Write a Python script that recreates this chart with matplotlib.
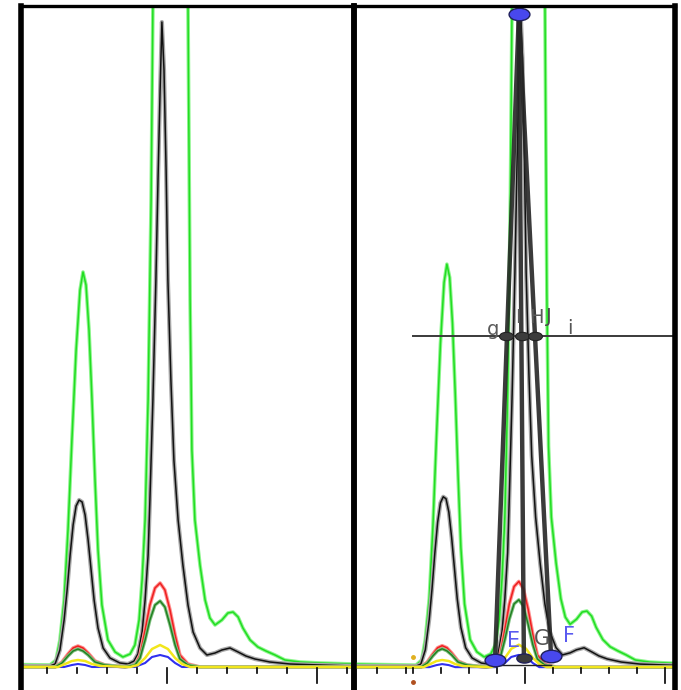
import matplotlib
matplotlib.use("Agg")
import matplotlib.pyplot as plt
import matplotlib.path as mpath
import numpy as np

# curves: x in tick units, y in signal height
black_x = [-6.2, -3.89, -3.72, -3.56, -3.42, -3.32, -3.22, -3.12, -3.02, -2.92, -2.82, -2.72,
           -2.62, -2.52, -2.42, -2.29, -2.12, -1.89, -1.56, -1.29, -1.09, -0.96, -0.82, -0.72,
           -0.62, -0.56, -0.46, -0.36, -0.29, -0.22, -0.16, -0.09, -0.02, 0.04, 0.14, 0.24,
           0.38, 0.54, 0.71, 0.88, 1.11, 1.34, 1.61, 1.84, 2.11, 2.38, 2.64, 2.94, 3.44, 4.11,
           5.11, 6.21]
black_y = [0.01, 0.01, 0.03, 0.17, 0.47, 0.77, 1.12, 1.42, 1.61, 1.67, 1.65, 1.52,
           1.27, 0.97, 0.67, 0.39, 0.19, 0.09, 0.04, 0.03, 0.06, 0.13, 0.35, 0.67,
           1.12, 1.67, 2.67, 3.87, 4.87, 5.77, 6.45, 5.97, 4.97, 3.87, 2.87, 2.07,
           1.47, 1.02, 0.62, 0.35, 0.19, 0.12, 0.14, 0.17, 0.19, 0.15, 0.11, 0.08, 0.05, 0.03,
           0.02, 0.01]

green_x = [-6.2, -3.89, -3.69, -3.56, -3.42, -3.29, -3.16, -3.02, -2.89, -2.79, -2.69, -2.59,
           -2.49, -2.39, -2.29, -2.16, -1.96, -1.72, -1.46, -1.22, -1.06, -0.92, -0.82, -0.72,
           -0.62, -0.52, -0.46, 0.11, 0.71, 0.78, 0.84, 0.94, 1.11, 1.28, 1.44, 1.61, 1.84,
           2.04, 2.21, 2.38, 2.54, 2.78, 3.04, 3.31, 3.61, 3.94, 4.44, 5.11, 6.21]
green_y = [0.03, 0.02, 0.07, 0.27, 0.67, 1.37, 2.27, 3.17, 3.77, 3.95, 3.82, 3.37,
           2.67, 1.87, 1.17, 0.62, 0.27, 0.15, 0.10, 0.13, 0.22, 0.47, 0.87, 1.47,
           2.67, 4.67, 6.61, 12.67, 6.61, 3.67, 2.17, 1.47, 1.02, 0.67, 0.49, 0.42, 0.47,
           0.54, 0.55, 0.50, 0.39, 0.27, 0.20, 0.16, 0.12, 0.07, 0.05, 0.04, 0.03]

red_x = [-6.2, -3.72, -3.49, -3.29, -3.12, -2.96, -2.79, -2.62, -2.39, -2.06, -1.39, -1.06,
         -0.89, -0.72, -0.56, -0.39, -0.22, -0.06, 0.11, 0.28, 0.44, 0.71, 1.11, 6.21]
red_y = [0, 0, 0.05, 0.13, 0.19, 0.21, 0.19, 0.14, 0.06, 0.02, 0, 0.02,
         0.12, 0.37, 0.62, 0.79, 0.84, 0.77, 0.57, 0.32, 0.12, 0.03, 0, 0]

dkgreen_x = red_x
dkgreen_y = [0, 0, 0.04, 0.11, 0.16, 0.18, 0.16, 0.12, 0.05, 0.02, 0, 0.02,
             0.09, 0.27, 0.47, 0.62, 0.66, 0.60, 0.42, 0.22, 0.08, 0.02, 0, 0]

yellow_x = [-6.2, -3.62, -3.39, -3.16, -2.96, -2.72, -2.49, -2.22, -1.22, -0.96, -0.72,
            -0.49, -0.22, 0.04, 0.28, 0.51, 0.78, 6.21]
yellow_y = [0, 0, 0.03, 0.06, 0.07, 0.06, 0.03, 0.01, 0, 0.02, 0.09,
            0.18, 0.22, 0.18, 0.09, 0.03, 0, 0]

blue_x = [-6.2, -3.42, -3.16, -2.96, -2.72, -2.49, -1.06, -0.72, -0.49, -0.22, 0.04, 0.28,
          0.51, 6.21]
blue_y = [0, 0, 0.02, 0.03, 0.02, 0, 0, 0.04, 0.10, 0.12, 0.10, 0.04, 0, 0]

# construction on the right panel
apex = (-0.22, 6.40)
base_names = ["E", "G", "F"]
base_x = [-1.07, -0.04, 0.93]
base_y = [0.07, 0.09, 0.11]
half_level = 3.25
half_names = ["g", "I", "H"]
half_x = [-0.68, -0.12, 0.36]

left_ticks = [-4, -3, -2, -1, 0, 1, 2, 3, 4, 5, 6]
right_ticks = [-5.28, -4.25, -4, -3, -2, -1, 0, 1, 2, 3, 4, 5]
long_ticks = [0, 5]

W, H = 681, 690
fig = plt.figure(figsize=(W / 100, H / 100), dpi=100)
ax_l = fig.add_axes([21 / W, -20 / H, 332.5 / W, 704 / H])
ax_r = fig.add_axes([353.5 / W, -20 / H, 321 / W, 704 / H])


def draw_curves(ax):
    ax.plot(green_x, green_y, color="#8cf58c", lw=2.6, zorder=2)
    ax.plot(green_x, green_y, color="#22dd22", lw=1.1, zorder=2)
    ax.plot(black_x, black_y, color="#a8a8a8", lw=3.0, zorder=2.1)
    ax.plot(black_x, black_y, color="#111111", lw=1.1, zorder=2.1)
    ax.plot(red_x, red_y, color="#ff9090", lw=2.6, zorder=2.2)
    ax.plot(red_x, red_y, color="#ee2020", lw=1.1, zorder=2.2)
    ax.plot(dkgreen_x, dkgreen_y, color="#7fbf7f", lw=2.4, zorder=2.2)
    ax.plot(dkgreen_x, dkgreen_y, color="#1f7f1f", lw=1.0, zorder=2.2)
    ax.plot(blue_x, blue_y, color="#3030f0", lw=1.5, zorder=2.3)
    ax.plot(yellow_x, yellow_y, color="#f2e61c", lw=1.8, zorder=2.4)


def draw_ticks(ax, ticks):
    for t in ticks:
        low = -0.155 if t in long_ticks else -0.06
        ax.plot([t, t], [-0.012, low], color="black", lw=1.2, zorder=2.4)


for ax in (ax_l, ax_r):
    ax.set_xticks([])
    ax.set_yticks([])
    ax.spines["bottom"].set_visible(False)
    for side in ("left", "right"):
        ax.spines[side].set_linewidth(4.0)
    ax.spines["top"].set_linewidth(2.4)
    for sp in ax.spines.values():
        sp.set_zorder(20)
    ax.patch.set_alpha(0)
    draw_curves(ax)

ax_l.set_xlim(-4.857, 6.227)
ax_l.set_ylim(-0.43, 6.61)
ax_r.set_xlim(-6.125, 5.339)
ax_r.set_ylim(-0.42, 6.48)
draw_ticks(ax_l, left_ticks)
draw_ticks(ax_r, right_ticks)

# ellipse marker
circ = mpath.Path.unit_circle()
ell = mpath.Path(circ.vertices * np.array([1.0, 0.6]), circ.codes)

# fwhm construction
ax_r.plot([-4.0, 6.0], [half_level, half_level], color="#3a3a3a", lw=1.4, zorder=6)
ax_r.plot([base_x[0], base_x[2]], [0.02, 0.02], color="#222222", lw=1.0, zorder=6)
for bx, by in zip(base_x, base_y):
    ax_r.plot([apex[0], bx], [apex[1], by], color="#262626", lw=3.2, alpha=0.9,
              solid_capstyle="butt", zorder=7)
ax_r.plot(-4.0, 0.1, marker="o", ms=2.5, color="#e0b020", zorder=6)
ax_r.plot(-4.0, -0.15, marker="o", ms=2.5, color="#b05020", zorder=6)

ax_r.plot(half_x, [half_level] * 3, ls="none", marker=ell, ms=10, mfc="#3c3c3c",
          mec="#222222", mew=0.8, zorder=8)
ax_r.plot([apex[0]], [apex[1]], ls="none", marker=ell, ms=15, mfc="#4848ee",
          mec="#20205a", mew=1.0, zorder=9, clip_on=False)
for name, bx, by in zip(base_names, base_x, base_y):
    fc = "#3c3c3c" if name == "G" else "#4848ee"
    ms = 11 if name == "G" else 15
    ax_r.plot([bx], [by], ls="none", marker=ell, ms=ms, mfc=fc, mec="#20205a",
              mew=1.0, zorder=9)
    tc = "#555555" if name == "G" else "#5a5af0"
    ax_r.annotate(name, (bx, by), xytext=(13, 14), textcoords="offset points",
                  ha="center", va="center", fontsize=15, color=tc, zorder=10)

label_off = {"g": (-9, 4), "I": (-3, 13), "H": (1, 13)}
for name, hx in zip(half_names, half_x):
    ax_r.annotate(name, (hx, half_level), xytext=label_off[name], textcoords="offset points",
                  ha="center", va="center", fontsize=14, color="#5a5a5a", zorder=10)
ax_r.annotate("J", (half_x[2], half_level), xytext=(10, 14), textcoords="offset points",
              ha="center", va="center", fontsize=14, color="#4a4a4a", zorder=10)
ax_r.annotate("i", (half_x[2], half_level), xytext=(25, 5), textcoords="offset points",
              ha="center", va="center", fontsize=14, color="#555555", zorder=10)

fig.savefig("out.png", dpi=100, facecolor="white")
